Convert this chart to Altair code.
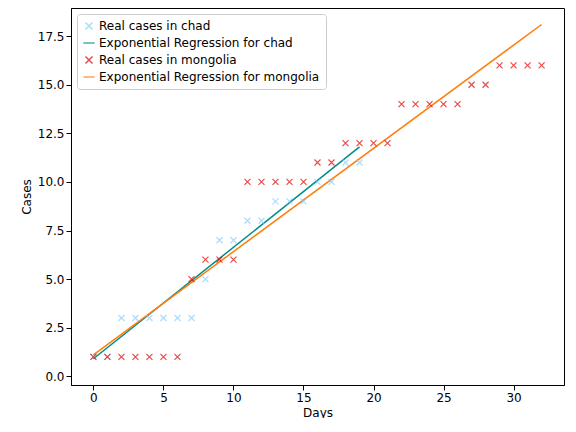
import altair as alt
import pandas as pd

chad_days = list(range(20))
chad_cases = [1, 1, 3, 3, 3, 3, 3, 3, 5, 7, 7, 8, 8, 9, 9, 9, 10, 10, 11, 11]
mongolia_days = list(range(33))
mongolia_cases = [1, 1, 1, 1, 1, 1, 1, 5, 6, 6, 6, 10, 10, 10, 10, 10, 11, 11,
                  12, 12, 12, 12, 14, 14, 14, 14, 14, 15, 15, 16, 16, 16, 16]
# fitted line endpoints
chad_fit_days = [0, 19]
chad_fit_cases = [0.9, 11.8]
mongolia_fit_days = [0, 32]
mongolia_fit_cases = [1.1, 18.1]

SERIES = ["Real cases in chad", "Exponential Regression for chad",
          "Real cases in mongolia", "Exponential Regression for mongolia"]
COLORS = ["#87cefa", "#008b8b", "#e00000", "#ff7f0e"]
CROSS = "M-1,-1L1,1M-1,1L1,-1"
DASH = "M-1.6,0L1.6,0"

points = pd.concat([
    pd.DataFrame({"day": chad_days, "cases": chad_cases, "series": SERIES[0]}),
    pd.DataFrame({"day": mongolia_days, "cases": mongolia_cases, "series": SERIES[2]}),
])
fits = pd.concat([
    pd.DataFrame({"day": chad_fit_days, "cases": chad_fit_cases, "series": SERIES[1]}),
    pd.DataFrame({"day": mongolia_fit_days, "cases": mongolia_fit_cases, "series": SERIES[3]}),
])

x = alt.X("day:Q", title="Days", scale=alt.Scale(domain=[-1.6, 33.6], nice=False, zero=False),
          axis=alt.Axis(values=[0, 5, 10, 15, 20, 25, 30], grid=False))
y = alt.Y("cases:Q", title="Cases", scale=alt.Scale(domain=[-0.45, 18.95], nice=False, zero=False),
          axis=alt.Axis(values=[0, 2.5, 5, 7.5, 10, 12.5, 15, 17.5], format=".1f", grid=False))
color_scale = alt.Scale(domain=SERIES, range=COLORS)

pts = alt.Chart(points).mark_point(filled=False, size=36, strokeWidth=1.2).encode(
    x=x, y=y,
    color=alt.Color("series:N", scale=color_scale, sort=SERIES, title=None),
    shape=alt.Shape("series:N", sort=SERIES, title=None,
                    scale=alt.Scale(domain=SERIES, range=[CROSS, DASH, CROSS, DASH])),
)
lines = alt.Chart(fits).mark_line(strokeWidth=1.5).encode(
    x=x, y=y, detail="series:N",
    color=alt.Color("series:N", scale=color_scale, sort=SERIES, title=None),
)

chart = (lines + pts).properties(
    width=493, height=377, padding={"left": 12, "top": 0, "right": 4, "bottom": 0}
).configure_view(
    stroke="black", strokeWidth=1
).configure_axis(
    domainColor="black", tickColor="black", labelColor="black", titleColor="black",
    labelFontSize=12, titleFontSize=12, titleFontWeight="normal", labelFont="DejaVu Sans",
    titleFont="DejaVu Sans",
).configure_legend(
    orient="top-left", offset=6, labelFontSize=12, labelFont="DejaVu Sans", symbolSize=50,
    symbolStrokeWidth=1.5, strokeColor="#cccccc", fillColor="white", padding=6, cornerRadius=3,
    labelLimit=300, rowPadding=4,
)
chart.save("out.html", embed_options={"renderer": "svg", "actions": False})
